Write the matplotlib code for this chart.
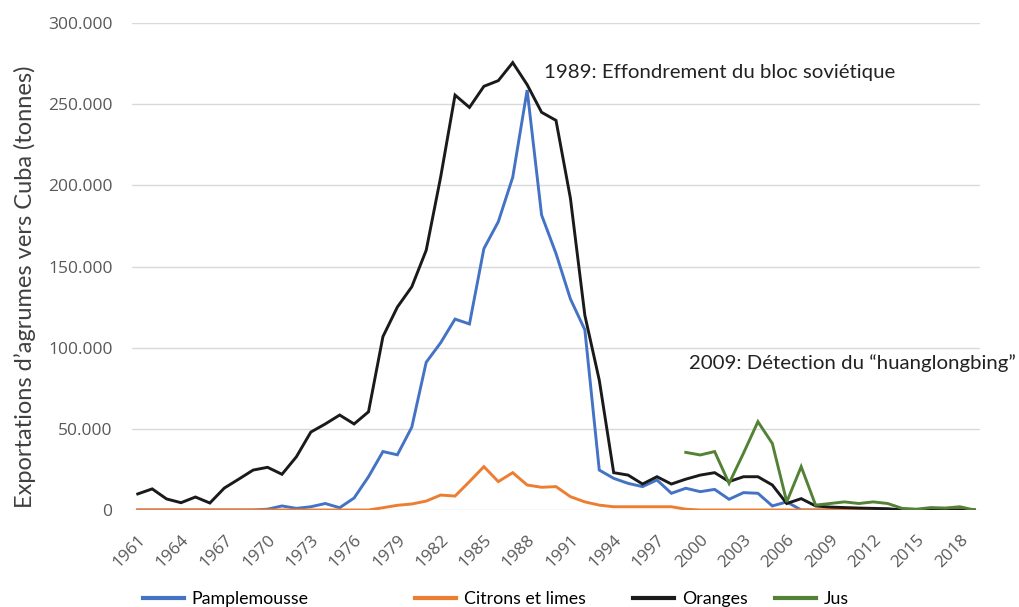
import matplotlib
matplotlib.use("Agg")
import matplotlib.pyplot as plt
from matplotlib.lines import Line2D
import numpy as np

years = list(range(1961, 2020))

pamplemousse = [0, 0, 0, 0, 0, 0, 0, 0, 0, 500,
                2500, 1000, 2000, 4000, 1400, 7400, 20500, 36000, 34000, 51000,
                91000, 103000, 117600, 114600, 161000, 177600, 205000, 258700, 181700, 158000,
                130000, 111000, 24600, 19500, 16400, 14400, 18500, 10300, 13400, 11300,
                12700, 6600, 10700, 10300, 2500, 5000, 0, 0, 0, 0,
                0, 0, 0, 0, 0, 0, 0, 0, 0]

citrons = [0, 0, 0, 0, 0, 0, 0, 0, 0, 0,
           0, 0, 0, 0, 0, 0, 0, 1400, 2900, 3700,
           5500, 9200, 8600, 17500, 26700, 17500, 23000, 15400, 14000, 14400,
           8200, 5000, 3000, 2000, 2000, 2000, 2000, 2000, 500, 0,
           0, 0, 0, 0, 0, 0, 0, 0, 0, 0,
           0, 0, 0, 0, 0, 0, 0, 0, 0]

oranges = [9900, 13000, 6800, 4500, 8000, 4300, 13500, 19000, 24600, 26300,
           22000, 32800, 48000, 53000, 58500, 53000, 60500, 106800, 125000, 137500,
           160000, 205000, 255600, 248000, 261000, 264500, 275600, 262000, 245000, 240000,
           192000, 120000, 80000, 23000, 21500, 16000, 20500, 16000, 19000, 21500,
           23000, 17500, 20500, 20500, 15400, 4000, 7000, 2500, 1800, 1500,
           1200, 1000, 800, 0, 0, 0, 0, 0, 0]

jus = [None] * 38 + [35500, 33900, 36000, 16400, 35000, 54400, 41000, 5000, 26700, 3000,
                     4000, 5000, 4000, 5000, 4000, 1000, 500, 1500, 1200, 2000, 0]

series_names = ["Pamplemousse", "Citrons et limes", "Oranges", "Jus"]
series_colors = ["#4472C4", "#ED7D31", "#1a1a1a", "#548235"]

yticks = [0, 50000, 100000, 150000, 200000, 250000, 300000]
ytick_labels = ["0", "50.000", "100.000", "150.000", "200.000", "250.000", "300.000"]
xticks = list(range(1961, 2019, 3))


def to_array(values):
    return np.array([np.nan if v is None else v for v in values], dtype=float)


def main():
    fig = plt.figure(figsize=(10.2, 6.07), dpi=100)
    ax = fig.add_axes([0.1294, 0.1598, 0.8314, 0.8023])

    all_series = [pamplemousse, citrons, oranges, jus]
    for i in range(4):
        ax.plot(years, to_array(all_series[i]), color=series_colors[i],
                linewidth=2.1, solid_joinstyle="miter", zorder=3 + i)

    ax.set_xlim(1960.6, 2019.4)
    ax.set_ylim(0, 300000)
    ax.set_yticks(yticks)
    ax.set_yticklabels(ytick_labels, fontsize=12.5, color="#595959", family="Open Sans")
    ax.set_xticks(xticks)
    ax.set_xticklabels([str(x) for x in xticks], rotation=45, ha="right",
                       rotation_mode="anchor", fontsize=12.3, color="#595959",
                       family="Open Sans")
    ax.tick_params(axis="both", length=0)
    ax.tick_params(axis="y", pad=14)
    ax.tick_params(axis="x", pad=16)
    ax.grid(axis="y", color="#d9d9d9", linewidth=1.0, zorder=0)
    ax.set_axisbelow(True)
    for s in ax.spines.values():
        s.set_visible(False)

    ax.set_ylabel("Exportations d\u2019agrumes vers Cuba (tonnes)", fontsize=17,
                  color="#404040", family="Lato")
    ax.yaxis.set_label_coords(-0.113, 0.458)

    ax.text(1989.2, 269500, "1989: Effondrement du bloc sovi\u00e9tique", fontsize=14.7,
            color="#222222", family="Lato", va="center", ha="left")
    ax.text(1999.25, 90500, "2009: D\u00e9tection du \u201chuanglongbing\u201d", fontsize=14.7,
            color="#222222", family="Lato", va="center", ha="left", clip_on=False)

    legend_x = [0.140, 0.407, 0.621, 0.760]
    for i, xpos in enumerate(legend_x):
        h = Line2D([0], [0], color=series_colors[i], linewidth=3)
        fig.legend([h], [series_names[i]], loc="center left",
                   bbox_to_anchor=(xpos, 0.013), frameon=False, handlelength=2.3,
                   handletextpad=0.45, borderaxespad=0, borderpad=0,
                   prop={"family": "Lato", "size": 12.8})

    fig.savefig("out.png", dpi=100)


if __name__ == "__main__":
    main()
